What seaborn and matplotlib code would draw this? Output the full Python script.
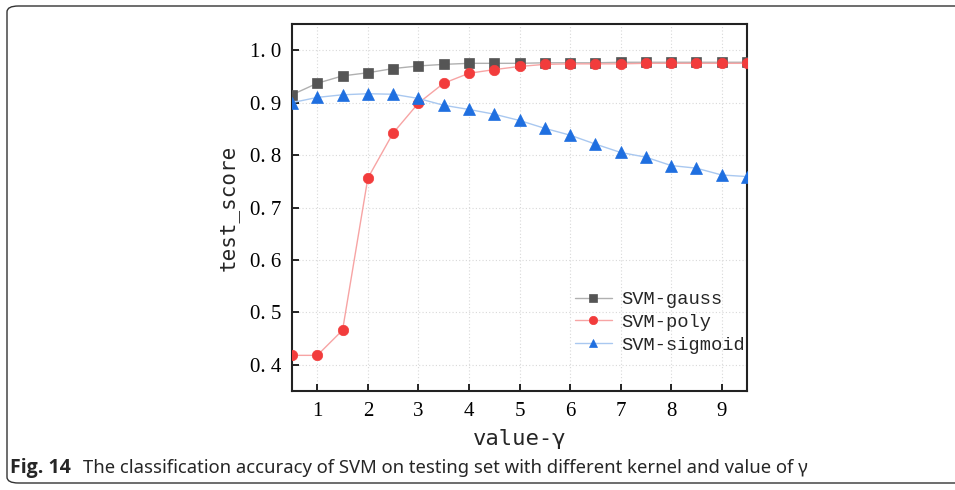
import matplotlib
matplotlib.use("Agg")
import matplotlib.pyplot as plt
import seaborn as sns
import pandas as pd
from matplotlib.patches import FancyBboxPatch

gamma = [0.5, 1.0, 1.5, 2.0, 2.5, 3.0, 3.5, 4.0, 4.5, 5.0, 5.5, 6.0, 6.5, 7.0, 7.5, 8.0, 8.5, 9.0, 9.5]
svm_gauss = [0.915, 0.937, 0.951, 0.957, 0.965, 0.970, 0.973, 0.975, 0.975, 0.975, 0.976, 0.976, 0.976,
             0.977, 0.977, 0.977, 0.977, 0.977, 0.977]
svm_poly = [0.418, 0.418, 0.466, 0.756, 0.842, 0.899, 0.937, 0.956, 0.963, 0.969, 0.973, 0.974, 0.974,
            0.974, 0.975, 0.975, 0.975, 0.975, 0.975]
svm_sigmoid = [0.900, 0.910, 0.915, 0.917, 0.916, 0.908, 0.895, 0.887, 0.878, 0.866, 0.851, 0.838, 0.821,
               0.805, 0.796, 0.780, 0.775, 0.762, 0.759]
x_ticks = [1, 2, 3, 4, 5, 6, 7, 8, 9]
y_ticks = [0.4, 0.5, 0.6, 0.7, 0.8, 0.9, 1.0]

sns.set_theme(style="white")
plt.rcParams['font.family'] = ['DejaVu Sans']

fig = plt.figure(figsize=(9.55, 4.9), dpi=100)
ax = fig.add_axes([292 / 955, 1 - 391 / 490, 455 / 955, 367 / 490])

series = [
    ("SVM-gauss", svm_gauss, "s", "#b0b0b0", "#555555", 6.5),
    ("SVM-poly", svm_poly, "o", "#f7a4a4", "#f23c3c", 7.5),
    ("SVM-sigmoid", svm_sigmoid, "^", "#a9c8f0", "#1f6fe0", 8),
]
for name, vals, mk, lc, mc, ms in series:
    df = pd.DataFrame({"gamma": gamma, "score": vals})
    sns.lineplot(data=df, x="gamma", y="score", ax=ax, color=lc, lw=1.0,
                 marker=mk, markersize=ms, markerfacecolor=mc, markeredgecolor=mc,
                 markeredgewidth=0.5, label=name, zorder=3)

ax.set_xlim(0.5, 9.5)
ax.set_ylim(0.35, 1.05)
ax.set_xticks(x_ticks)
ax.set_yticks(y_ticks)
ax.set_xticklabels([str(t) for t in x_ticks], family="Liberation Serif", fontsize=15)
ax.set_yticklabels([f"{t:.1f}".replace(".", ". ") for t in y_ticks], family="Liberation Serif", fontsize=15)
ax.grid(True, color="#d8d8d8", linestyle=(0, (1, 2)), lw=0.8)
ax.tick_params(direction="in", length=5, width=1.2, colors="black", left=True, bottom=True, pad=8)
for s in ax.spines.values():
    s.set_color("#222222")
    s.set_linewidth(1.5)

ax.set_xlabel("value-γ", family=["DejaVu Sans Mono"], fontsize=16, labelpad=6)
ax.set_ylabel("test_score", family=["DejaVu Sans Mono"], fontsize=15, labelpad=8)

leg = ax.legend(loc="lower right", bbox_to_anchor=(1.025, 0.066), frameon=False,
                prop={"family": "Liberation Mono", "size": 13.5}, handlelength=2.0,
                handletextpad=0.5, labelspacing=0.3, borderaxespad=0.3, markerscale=0.8)

# rounded figure frame
frame = FancyBboxPatch((7 / 955, 1 - 483 / 490), 960 / 955, 477 / 490,
                       boxstyle="round,pad=0,rounding_size=0.012",
                       transform=fig.transFigure, fill=False, ec="#333333", lw=1.0)
fig.patches.append(frame)

fig.text(10 / 955, 1 - 468 / 490, "Fig. 14", family="Open Sans", weight="bold", fontsize=14,
         va="center", ha="left")
fig.text(83 / 955, 1 - 468 / 490,
         "The classification accuracy of SVM on testing set with different kernel and value of γ",
         family="Noto Sans", fontsize=13.3, va="center", ha="left")

fig.savefig("out.png", dpi=100)
